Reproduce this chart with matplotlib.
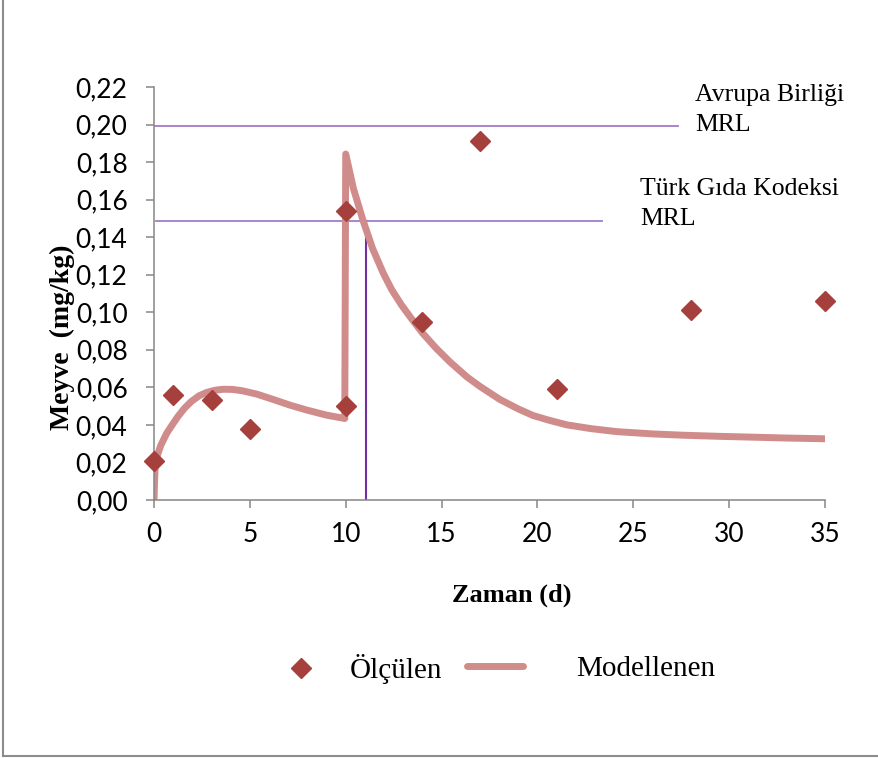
import matplotlib
matplotlib.use('Agg')
import matplotlib.pyplot as plt
from matplotlib.lines import Line2D

# olculen (measured) residues
gun = [0, 1, 3, 5, 10, 10, 14, 17, 21, 28, 35]
olculen = [0.021, 0.056, 0.053, 0.038, 0.050, 0.154, 0.095, 0.191, 0.059, 0.101, 0.106]

# modellenen curve
model_x = [0, 0.03, 0.06, 0.15, 0.35, 0.66, 0.95, 1.25, 1.6, 1.95, 2.35, 2.75, 3.2, 3.62, 4.1, 4.6,
           5.36, 6.23, 7.1, 7.97, 9.0, 9.95,
           10.0, 10.4, 10.9, 11.4, 11.95, 12.4, 12.9, 13.4, 14.0, 14.7, 15.44, 16.33, 17.0, 18.05, 19.0,
           19.77, 20.6, 21.54, 22.8, 24.15, 26.0, 27.6, 29.5, 31.1, 33.0, 35.0]
model_y = [0, 0.010, 0.018, 0.023, 0.029, 0.0355, 0.040, 0.0445, 0.049, 0.0525, 0.0555, 0.0573, 0.0585, 0.059, 0.0589, 0.0582,
           0.0564, 0.0535, 0.0505, 0.0479, 0.0452, 0.0434,
           0.1843, 0.166, 0.149, 0.134, 0.121, 0.112, 0.104, 0.097, 0.089, 0.081, 0.0735, 0.0655, 0.0605, 0.0535, 0.0485,
           0.0450, 0.0425, 0.0400, 0.0380, 0.0364, 0.0352, 0.0345, 0.0339, 0.0335, 0.0330, 0.0326]

# MRL limits
ab_mrl = 0.199
ab_bitis = 27.33
tgk_mrl = 0.1485
tgk_bitis = 23.37
kesisim = 11.06

xticks = [0, 5, 10, 15, 20, 25, 30, 35]
yticks = [0, 0.02, 0.04, 0.06, 0.08, 0.10, 0.12, 0.14, 0.16, 0.18, 0.20, 0.22]
ytick_labels = ['0,00', '0,02', '0,04', '0,06', '0,08', '0,10', '0,12', '0,14', '0,16', '0,18', '0,20', '0,22']

serif = 'Liberation Serif'
sans = 'Lato'
gri = '#868686'

fig = plt.figure(figsize=(8.79, 7.58), dpi=100)
ax = fig.add_axes([0.1752, 0.3404, 0.7634, 0.5448])

ax.plot([0, ab_bitis], [ab_mrl, ab_mrl], color='#a07ccc', lw=1.3, zorder=1)
ax.plot([0.1, tgk_bitis], [tgk_mrl, tgk_mrl], color='#a07ccc', lw=1.3, zorder=1)
ax.plot([kesisim, kesisim], [0, tgk_mrl], color='#7030a0', lw=1.5, zorder=1)

ax.plot(model_x, model_y, color='#d08c8b', lw=5, solid_capstyle='round', solid_joinstyle='round', zorder=2)
ax.plot(gun, olculen, ls='none', marker='D', ms=10, color='#a5403d', mec='#a5403d', zorder=3, clip_on=False)

ax.set_xlim(0, 35)
ax.set_ylim(0, 0.22)
ax.set_xticks(xticks)
ax.set_xticklabels([str(t) for t in xticks], fontsize=19, family=sans)
ax.set_yticks(yticks)
ax.set_yticklabels(ytick_labels, fontsize=19, family=sans)
ax.tick_params(axis='both', direction='out', length=6, width=1.1, color=gri)
ax.tick_params(axis='y', pad=13)
ax.tick_params(axis='x', pad=10)
for s in ['top', 'right']:
    ax.spines[s].set_visible(False)
for s in ['left', 'bottom']:
    ax.spines[s].set_color(gri)
    ax.spines[s].set_linewidth(1.1)

fig.text(512/879, 1-595/758, 'Zaman (d)', ha='center', va='center', fontsize=19, fontweight='bold', family=serif)
fig.text(62/879, 1-337/758, 'Meyve  (mg/kg)', ha='center', va='center', rotation=90, fontsize=20, fontweight='bold', family=serif)

fig.text(695/879, 1-84/758, 'Avrupa Birliği\nMRL', ha='left', va='top', fontsize=18.5, family=serif, linespacing=1.45)
fig.text(640/879, 1-178/758, 'Türk Gıda Kodeksi\nMRL', ha='left', va='top', fontsize=18.5, family=serif, linespacing=1.45)

# legend, two pieces so the spacing follows the picture
h1 = Line2D([], [], ls='none', marker='D', ms=10, color='#a5403d')
h2 = Line2D([], [], color='#d08c8b', lw=5, solid_capstyle='round')
leg1 = fig.legend([h1], ['Ölçülen'], loc='center left', bbox_to_anchor=(286/879, 1-669/758),
                  frameon=False, borderpad=0, borderaxespad=0, handlelength=1.0, handletextpad=1.2,
                  prop={'family': serif, 'size': 21})
leg2 = fig.legend([h2], ['Modellenen'], loc='center left', bbox_to_anchor=(467/879, 1-669/758),
                  frameon=False, borderpad=0, borderaxespad=0, handlelength=1.92, handletextpad=1.82,
                  prop={'family': serif, 'size': 21})

# chart area border (left and bottom only visible)
fig.add_artist(Line2D([3.5/879, 3.5/879], [1-756/758, 1.0], transform=fig.transFigure, color='#8c8c8c', lw=1.5))
fig.add_artist(Line2D([3.5/879, 1.0], [1-756/758, 1-756/758], transform=fig.transFigure, color='#8c8c8c', lw=1.5))

fig.savefig('out.png', dpi=100)
